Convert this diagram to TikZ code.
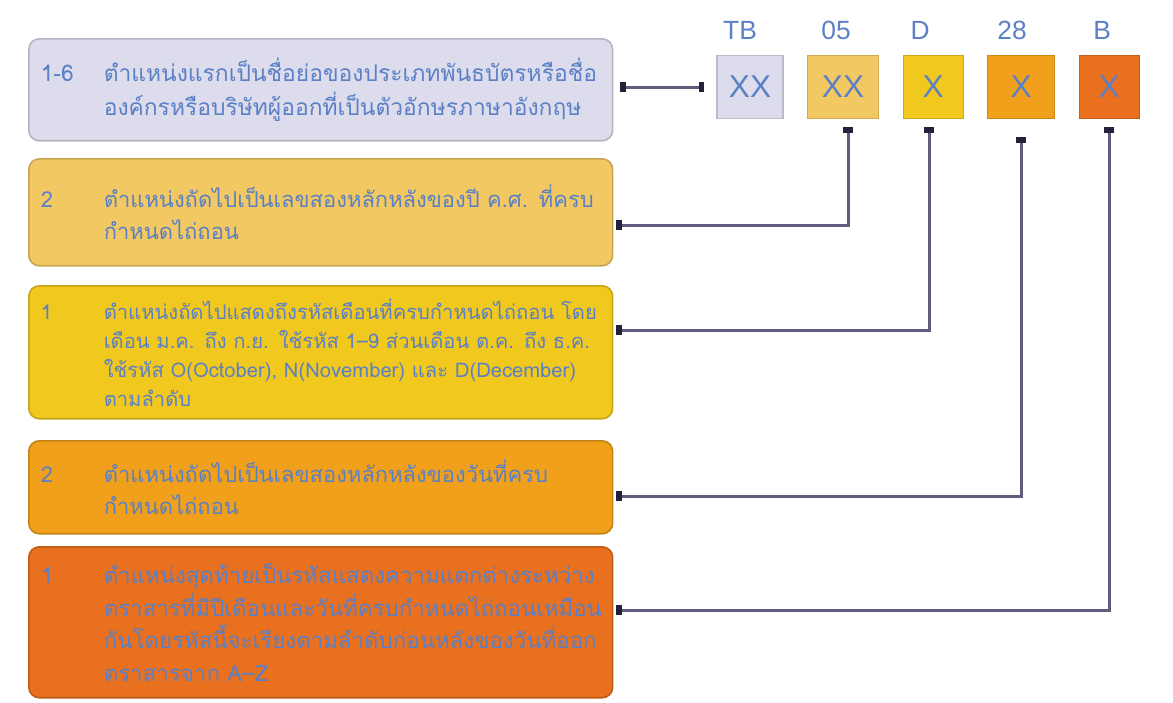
\documentclass[tikz,border=0pt]{standalone}
\usepackage{fontspec}
\setmainfont{Liberation Sans}
\newfontfamily\thaifont[Script=Thai]{Loma}
\usepackage{tikz}
\usetikzlibrary{arrows.meta, positioning}

\definecolor{lavbox}{HTML}{DCDCEC}
\definecolor{sandbox}{HTML}{F2C862}
\definecolor{goldbox}{HTML}{F1C81E}
\definecolor{ambbox}{HTML}{F0A01A}
\definecolor{rustbox}{HTML}{E8701E}
\definecolor{txtblue}{HTML}{5A80C6}
\definecolor{linkgrey}{HTML}{5E5E7C}
\definecolor{linkdark}{HTML}{22223A}

\newcommand{\infoline}[2]{\makebox[1.26cm][l]{#1}\parbox[t]{9.94cm}{#2}}
\newcommand{\jline}[1]{\makebox[9.94cm][s]{#1}}

\begin{document}
\begin{tikzpicture}[x=0.02cm,y=-0.02cm,node distance=0.47cm,
    infobox/.style={draw=#1!82!black, fill=#1, line width=0.9pt, rounded corners=6pt,
      anchor=north west, minimum width=11.68cm, text width=11.2cm, inner xsep=0.24cm,
      align=left, text=txtblue, font=\thaifont\fontsize{12.5}{18.5}\selectfont},
    codebox/.style={draw=#1!85!black, fill=#1, line width=0.6pt, minimum height=1.26cm,
      text=txtblue, font=\fontsize{18}{20}\selectfont},
    codelabel/.style={text=txtblue, font=\fontsize{15}{17}\selectfont, inner sep=1pt},
    link/.style={draw=linkgrey, line width=0.06cm, shorten <=0.16cm, shorten >=0.06cm,
      {Bar[width=0.2cm,line width=0.11cm,color=linkdark]}-{Bar[width=0.2cm,line width=0.11cm,color=linkdark]}}]
  \useasboundingbox (0,0) rectangle (1173,703);

  \node[infobox=lavbox, minimum height=2.04cm, font=\thaifont\fontsize{13}{19.5}\selectfont] (b1) at (28,38)
    {\infoline{1-6}{\jline{ตำแหน่งแรกเป็นชื่อย่อของประเภทพันธบัตรหรือชื่อ}\\
      องค์กรหรือบริษัทผู้ออกที่เป็นตัวอักษรภาษาอังกฤษ}};
  \node[infobox=sandbox, minimum height=2.14cm] (b2) at (28,158)
    {\infoline{2}{\jline{ตำแหน่งถัดไปเป็นเลขสองหลักหลังของปี ค.ศ. ที่ครบ}\\
      กำหนดไถ่ถอน}};
  \node[infobox=goldbox, minimum height=2.66cm, font=\thaifont\fontsize{11.5}{16.5}\selectfont] (b3) at (28,285)
    {\infoline{1}{\jline{ตำแหน่งถัดไปแสดงถึงรหัสเดือนที่ครบกำหนดไถ่ถอน โดย}\\
      \jline{เดือน ม.ค. ถึง ก.ย. ใช้รหัส 1–9 ส่วนเดือน ต.ค. ถึง ธ.ค.}\\
      \jline{ใช้รหัส O(October), N(November) และ D(December)}\\
      ตามลำดับ}};
  \node[infobox=ambbox, minimum height=1.86cm] (b4) at (28,440)
    {\infoline{2}{\jline{ตำแหน่งถัดไปเป็นเลขสองหลักหลังของวันที่ครบ}\\
      กำหนดไถ่ถอน}};
  \node[infobox=rustbox, minimum height=3.02cm, font=\thaifont\fontsize{12.7}{18.5}\selectfont] (b5) at (28,546)
    {\infoline{1}{\jline{ตำแหน่งสุดท้ายเป็นรหัสแสดงความแตกต่างระหว่าง}\\
      \jline{ตราสารที่มีปีเดือนและวันที่ครบกำหนดไถ่ถอนเหมือน}\\
      \jline{กันโดยรหัสนี้จะเรียงตามลำดับก่อนหลังของวันที่ออก}\\
      ตราสารจาก A–Z}};

  \node[codebox=lavbox, minimum width=1.32cm] (kTB) at (750,87) {XX};
  \node[codebox=sandbox, minimum width=1.42cm] (k05) [right=of kTB] {XX};
  \node[codebox=goldbox, minimum width=1.2cm] (kD) [right=of k05] {X};
  \node[codebox=ambbox, minimum width=1.34cm] (k28) [right=of kD] {X};
  \node[codebox=rustbox, minimum width=1.2cm] (kB) [right=of k28] {X};

  \node[codelabel] (lTB) [above=0.26cm of kTB, xshift=-0.2cm] {TB};
  \node[codelabel] (l05) [above=0.26cm of k05, xshift=-0.14cm] {05};
  \node[codelabel] (lD) [above=0.26cm of kD, xshift=-0.26cm] {D};
  \node[codelabel] (l28) [above=0.26cm of k28, xshift=-0.18cm] {28};
  \node[codelabel] (lB) [above=0.26cm of kB, xshift=-0.14cm] {B};

  \draw[link, shorten <=0.14cm, shorten >=0.24cm] (b1.east |- kTB.west) -- (kTB.west);
  \draw[link] ([xshift=0.1cm]k05.south) |- (b2.east |- 0,225);
  \draw[link] ([xshift=-0.08cm]kD.south) |- (b3.east |- 0,330);
  \draw[link, shorten <=0.36cm] (k28.south) |- (b4.east |- 0,496);
  \draw[link] (kB.south) |- (b5.east |- 0,610);
\end{tikzpicture}
\end{document}
